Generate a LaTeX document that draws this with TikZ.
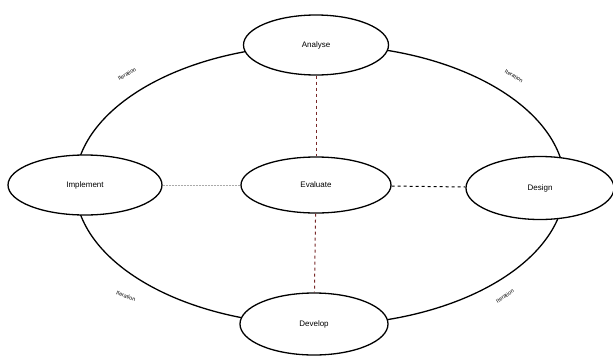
\documentclass[tikz,border=0pt]{standalone}
\usepackage{fontspec}
\setmainfont{Liberation Sans}
\usetikzlibrary{shapes.geometric}
\definecolor{darkred}{RGB}{120,40,40}
\definecolor{lightgray}{RGB}{170,170,170}
\begin{document}
\begin{tikzpicture}[x=1pt,y=-1pt,
  phase/.style={ellipse,draw=black,line width=1.3pt,fill=white,inner sep=0pt,font=\fontsize{8}{10}\selectfont},
  ring/.style={draw=black,line width=1.3pt},
  elabel/.style={font=\fontsize{5.5}{7}\selectfont,inner sep=1pt}]
\useasboundingbox (0,0) rectangle (613,362);
\fill[white] (0,0) rectangle (613,362);
\draw[ring] (320,185) ellipse [x radius=245, y radius=140];
\node[phase,minimum width=145pt,minimum height=60pt] (analyse) at (316,45) {Analyse};
\node[phase,minimum width=154pt,minimum height=60pt] (implement) at (85,185) {Implement};
\node[phase,minimum width=150pt,minimum height=56pt] (evaluate) at (316,185) {Evaluate};
\node[phase,minimum width=148pt,minimum height=63pt] (design) at (540,188) {Design};
\node[phase,minimum width=148pt,minimum height=62pt] (develop) at (314,324) {Develop};
\draw[darkred,dashed,line width=1pt] (analyse) -- (evaluate);
\draw[darkred,dashed,line width=1pt] (evaluate) -- (develop);
\draw[black,dashed,line width=1pt] (evaluate) -- (design);
\draw[lightgray,dashed,line width=0.6pt,dash pattern=on 2pt off 1pt] (implement) -- (evaluate);
\node[elabel,rotate=30] (l1) at (127,74) {Iteration};
\node[elabel,rotate=-30] (l2) at (514,76) {Iteration};
\node[elabel,rotate=-20] (l3) at (126,296) {Iteration};
\node[elabel,rotate=33] (l4) at (505,296) {Iteration};
\end{tikzpicture}
\end{document}
